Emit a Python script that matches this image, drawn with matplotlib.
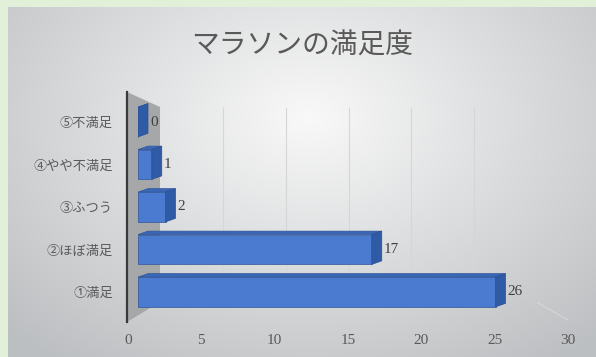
import numpy as np
import matplotlib as mpl
mpl.use('Agg')
import matplotlib.pyplot as plt
from matplotlib.patches import Rectangle, Polygon

plt.rcParams['font.family'] = ['Noto Sans CJK JP', 'DejaVu Sans']

categories = ["①満足", "②ほぼ満足", "③ふつう", "④やや不満足", "⑤不満足"]
values = [26, 17, 2, 1, 0]
xticks = [0, 5, 10, 15, 20, 25, 30]
title = "マラソンの満足度"

W, H = 596, 357

def box(l, t, r, b):
    # pixel box (left, top, right, bottom) -> figure fraction rect
    return [l / W, 1 - b / H, (r - l) / W, (b - t) / H]

fig = plt.figure(figsize=(W / 100, H / 100), dpi=100)
fig.patch.set_facecolor("#e2efd9")

# chart area with soft radial gradient
bg = fig.add_axes(box(8, 7, W, H))
yy, xx = np.mgrid[0:350, 0:588]
r = np.sqrt(((xx - 300) / 420.0) ** 2 + ((yy - 110) / 300.0) ** 2)
r = np.clip(r, 0, 1)
c0 = np.array([0.975, 0.975, 0.975])
c1 = np.array([0.74, 0.75, 0.76])
img = c0[None, None, :] * (1 - r[..., None]) + c1[None, None, :] * r[..., None]
bg.imshow(img, aspect="auto", interpolation="bilinear")
bg.axis("off")

# scene overlay in pixel coords (wall, floor edge)
scene = fig.add_axes([0, 0, 1, 1])
scene.set_xlim(0, W)
scene.set_ylim(H, 0)
scene.axis("off")
scene.add_patch(Polygon([(127, 92), (160, 107), (160, 302), (127, 322)],
                        closed=True, facecolor="#a6a7a9", edgecolor="none"))
scene.plot([127, 127], [92, 322], color="#3a3a3a", lw=1.6)
scene.plot([538, 568], [303, 320], color="#e4e4e4", lw=0.6, alpha=0.7)

# back wall gridlines
back = fig.add_axes(box(160, 107, 537, 303))
back.set_xlim(0, 30)
back.set_ylim(0, 1)
back.vlines(xticks[1:], 0, 1, color="#d6d6d6", lw=0.8)
back.axis("off")
back.patch.set_alpha(0)

# bars
L, R, T, B = 138, 550.5, 92, 322
ax = fig.add_axes(box(L, T, R, B))
ax.patch.set_alpha(0)
ax.set_xlim(0, 30)
ax.set_ylim(-0.706, 4.706)
pxx = (R - L) / 30.0
pxy = (B - T) / 5.412
dx = 10 / pxx
dy = 3.5 / pxy
h = 0.7
for i, v in enumerate(values):
    y0, y1 = i - h / 2, i + h / 2
    ax.add_patch(Polygon([(0, y1), (v, y1), (v + dx, y1 + dy), (dx, y1 + dy)],
                         closed=True, facecolor="#3a66b6", edgecolor="#2f5597", lw=0.5))
    ax.add_patch(Rectangle((0, y0), v, h, facecolor="#4a7bd0", edgecolor="#2f5597", lw=0.5))
    ax.add_patch(Polygon([(v, y0), (v, y1), (v + dx, y1 + dy), (v + dx, y0 + dy)],
                         closed=True, facecolor="#2f5aa5", edgecolor="#2a4f92", lw=0.5))
    ax.text(v + dx + 0.15, i, str(v), va="center", ha="left", fontsize=11,
            color="#404040", family=["Liberation Serif", "DejaVu Serif"])
ax.set_yticks(range(len(categories)))
ax.set_yticklabels(categories, fontsize=9.5, color="#595959")
ax.tick_params(axis="y", length=0, pad=18)
ax.set_xticks([])
for s in ax.spines.values():
    s.set_visible(False)

# front floor tick labels
fl = fig.add_axes(box(128, 329, 568, 330))
fl.patch.set_alpha(0)
fl.set_xlim(0, 30)
fl.set_yticks([])
fl.set_xticks(xticks)
fl.set_xticklabels([str(t) for t in xticks], fontsize=11, color="#595959",
                   family=["Liberation Serif", "DejaVu Serif"])
fl.tick_params(axis="x", length=0, pad=3)
for s in fl.spines.values():
    s.set_visible(False)

fig.text(302 / W, 1 - 46 / H, title, ha="center", va="center", fontsize=20, color="#595959")

fig.savefig("out.png", dpi=100)
